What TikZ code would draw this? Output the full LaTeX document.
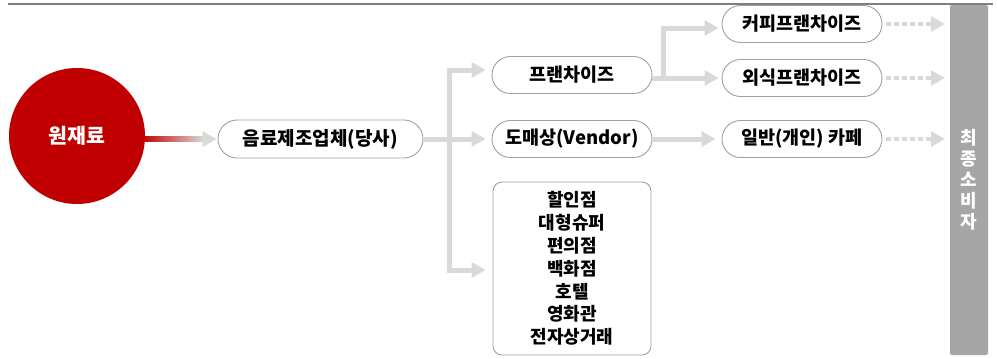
\documentclass[tikz,border=0pt]{standalone}
\usepackage{fontspec}
\setmainfont{Noto Sans CJK KR}
\usetikzlibrary{shapes.misc,arrows.meta,calc}
\definecolor{cred}{HTML}{C00000}
\definecolor{lgray}{HTML}{D9D9D9}
\definecolor{bgray}{HTML}{A6A6A6}
\definecolor{edgegray}{HTML}{A0A0A0}
\definecolor{rulegray}{HTML}{7F7F7F}
\begin{document}
\begin{tikzpicture}[x=1bp,y=-1bp,
  pill/.style={rounded rectangle, draw=edgegray, line width=0.9bp, fill=white,
    minimum width=160bp, minimum height=37bp, inner sep=0pt,
    font=\bfseries\fontsize{18.5bp}{20bp}\selectfont},
  conn/.style={draw=lgray, line width=5bp},
  arr/.style={-{Triangle[length=14bp,width=15bp]}},
  dotarr/.style={draw=lgray, line width=4bp, dash pattern=on 5bp off 3bp,
    -{Triangle[length=14bp,width=15bp]}},
]
\useasboundingbox (0,0) rectangle (997,358);
\draw[rulegray, line width=2bp] (8,4) -- (993,4);

\node[circle, fill=cred, minimum size=136bp, inner sep=0pt, text=white,
  font=\bfseries\fontsize{20.5bp}{22bp}\selectfont] (raw) at (77,136) {원재료};
\node[pill, minimum width=205bp, minimum height=38bp,
  font=\bfseries\fontsize{19bp}{20bp}\selectfont] (maker) at (320.5,139) {음료제조업체(당사)};
\node[pill] (fr) at (572,75) {프랜차이즈};
\node[pill] (ws) at (572,139) {도매상(Vendor)};
\node[draw=edgegray, line width=0.9bp, rounded corners=9bp, minimum width=158bp,
  minimum height=173bp, inner sep=0pt, align=center,
  font=\bfseries\fontsize{18bp}{22.8bp}\selectfont] (retail) at (572,268.5)
  {할인점\\대형슈퍼\\편의점\\백화점\\호텔\\영화관\\전자상거래};
\node[pill] (cf) at (802,24) {커피프랜차이즈};
\node[pill] (ef) at (802,78) {외식프랜차이즈};
\node[pill] (gc) at (802,139) {일반(개인) 카페};
\node[fill=bgray, rounded corners=2bp, minimum width=38bp, minimum height=350bp,
  inner sep=0pt, align=center, text=white,
  font=\bfseries\fontsize{18bp}{21bp}\selectfont] (cons) at (969,180) {최\\종\\소\\비\\자};

% gradient arrow from raw material
\shade[left color=cred, right color=lgray] ($(raw.east |- maker.west)+(-3,-2.5)$) rectangle ($(maker.west)+(-14,2.5)$);
\draw[conn,arr] ($(maker.west)+(-16,0)$) -- ($(maker.west)+(-1,0)$);

% trunk
\coordinate (tj) at (449,139);
\draw[conn,arr] (maker.east) -- ($(ws.west)+(-6,0)$);
\draw[conn,arr] (tj) |- ($(fr.west)+(-6,-5)$);
\draw[conn,arr] (tj) |- ($(retail.west)+(-7,1.5)$);

% franchise branch
\coordinate (fj) at (663,78);
\draw[conn,arr] (fr.east |- fj) -- ($(ef.west)+(-3,0)$);
\draw[conn,arr] (fj) |- ($(cf.west)+(-3,4)$);
\draw[conn,arr] (ws.east) -- ($(gc.west)+(-6,0)$);

% dotted arrows to consumer
\foreach \n in {cf,ef,gc}
  \draw[dotarr] ($(\n.east)+(4,0)$) -- ($(\n.east -| cons.west)+(-5,0)$);
\end{tikzpicture}
\end{document}
